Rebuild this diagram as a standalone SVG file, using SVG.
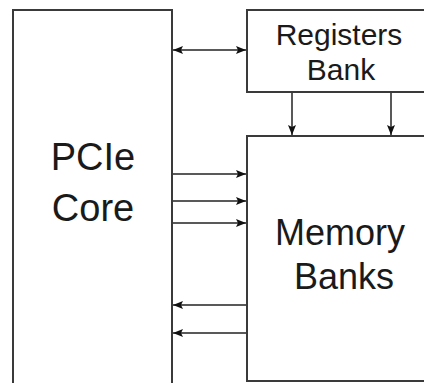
<svg xmlns="http://www.w3.org/2000/svg" width="424" height="383" viewBox="0 0 424 383">
<style>
.box{fill:#fff;stroke:#3a3a3a;stroke-width:2}
.ln{stroke:#222;stroke-width:1.5;fill:none}
.t{font-family:"Liberation Sans",Arial,sans-serif;fill:#1a1a1a;text-anchor:middle}
</style>
<defs>
<marker id="ah" viewBox="0 0 10 8" refX="10" refY="4" markerWidth="10" markerHeight="8" markerUnits="userSpaceOnUse" orient="auto-start-reverse">
<path d="M0,0 L10,4 L0,8 L2,4 z" fill="#111"/>
</marker>
</defs>
<g id="pcie">
<rect class="box" x="13" y="10" width="159" height="400"/>
<text class="t" x="93" y="170" font-size="38">PCIe</text>
<text class="t" x="93" y="221" font-size="38">Core</text>
</g>
<g id="registers">
<rect class="box" x="247" y="10" width="200" height="82"/>
<text class="t" x="339" y="45" font-size="30">Registers</text>
<text class="t" x="341" y="80" font-size="30">Bank</text>
</g>
<g id="memory">
<rect class="box" x="247" y="136" width="200" height="245"/>
<text class="t" x="340" y="245" font-size="36">Memory</text>
<text class="t" x="344" y="289" font-size="36">Banks</text>
</g>
<g id="connectors">
<line class="ln" x1="173" y1="50" x2="246" y2="50" marker-start="url(#ah)" marker-end="url(#ah)"/>
<line class="ln" x1="292" y1="93" x2="292" y2="135" marker-end="url(#ah)"/>
<line class="ln" x1="391" y1="93" x2="391" y2="135" marker-end="url(#ah)"/>
<line class="ln" x1="173" y1="174" x2="246" y2="174" marker-end="url(#ah)"/>
<line class="ln" x1="173" y1="201" x2="246" y2="201" marker-end="url(#ah)"/>
<line class="ln" x1="173" y1="223" x2="246" y2="223" marker-end="url(#ah)"/>
<line class="ln" x1="246" y1="305" x2="173" y2="305" marker-end="url(#ah)"/>
<line class="ln" x1="246" y1="333" x2="173" y2="333" marker-end="url(#ah)"/>
</g>
</svg>
